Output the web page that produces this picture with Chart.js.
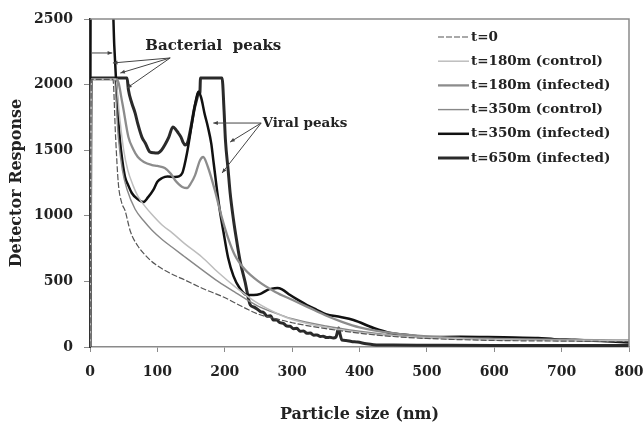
<!DOCTYPE html>
<html>
<head>
<meta charset="utf-8">
<script src="https://cdn.jsdelivr.net/npm/chart.js@4.4.0/dist/chart.umd.min.js"></script>
<style>
  html, body { margin: 0; padding: 0; background: #fff; }
</style>
</head>
<body>
<canvas id="chart" width="644" height="426"></canvas>
<script>
// series names (legend order)
const seriesNames = ['t=0', 't=180m (control)', 't=180m (infected)', 't=350m (control)', 't=350m (infected)', 't=650m (infected)'];

// t=0  (lowest thin curve)
const t0X = [0, 2, 34, 38, 42, 47, 52, 60, 71, 82, 97, 120, 141, 170, 198, 225, 250, 280, 300, 350, 400, 450, 500, 600, 700, 800];
const t0Y = [0, 2040, 2040, 1600, 1250, 1100, 1040, 880, 770, 700, 630, 560, 510, 440, 381, 310, 250, 210, 185, 140, 105, 80, 65, 50, 45, 40];

// t=180m control (light thin curve)
const c180X = [0, 2, 38, 44, 50, 56, 64, 71, 82, 92, 107, 122, 140, 166, 190, 216, 250, 280, 300, 350, 400, 450, 500, 600, 700, 800];
const c180Y = [0, 2040, 2040, 1750, 1500, 1350, 1230, 1150, 1070, 1010, 930, 870, 790, 686, 570, 457, 330, 250, 210, 150, 110, 85, 70, 55, 50, 50];

// t=180m infected (grey curve, second bump ~165 nm)
const i180X = [0, 2, 40, 48, 57, 64, 71, 80, 92, 100, 111, 120, 126, 132, 137, 144, 150, 156, 163, 168, 175, 185, 195, 205, 215, 230, 250, 275, 300, 325, 350, 375, 400, 450, 500, 550, 600, 650, 700, 750, 800];
const i180Y = [0, 2040, 2040, 1860, 1600, 1510, 1448, 1410, 1387, 1380, 1364, 1320, 1273, 1240, 1220, 1212, 1250, 1310, 1420, 1448, 1372, 1200, 1000, 830, 700, 590, 500, 420, 360, 300, 240, 190, 150, 105, 80, 68, 62, 58, 55, 52, 50];

// t=350m control (second thin curve)
const c350X = [0, 2, 36, 42, 48, 55, 67, 80, 92, 107, 122, 140, 166, 190, 216, 250, 280, 300, 350, 400, 450, 500, 600, 700, 800];
const c350Y = [0, 2040, 2040, 1600, 1350, 1200, 1050, 960, 890, 820, 760, 690, 590, 500, 415, 310, 250, 215, 160, 120, 90, 70, 55, 50, 45];

// t=350m infected (black, min near 80 nm, bump near 280 nm)
const i350X = [0, 1, 33, 36, 40, 44, 48, 52, 57, 62, 70, 79, 86, 94, 100, 107, 115, 126, 132, 137, 140, 144, 148, 152, 156, 159, 161, 165, 170, 175, 180, 183, 186, 189, 193, 198, 205, 213, 222, 233, 243, 253, 263, 270, 278, 285, 297, 310, 322, 337, 350, 372, 391, 421, 446, 471, 501, 550, 590, 630, 665, 689, 720, 760, 800];
const i350Y = [0, 2700, 2700, 2300, 1900, 1600, 1420, 1296, 1230, 1174, 1130, 1105, 1140, 1197, 1260, 1288, 1300, 1296, 1300, 1326, 1380, 1478, 1600, 1730, 1850, 1920, 1944, 1900, 1780, 1677, 1550, 1425, 1300, 1174, 1030, 880, 680, 540, 450, 396, 396, 405, 434, 445, 450, 440, 396, 355, 320, 282, 250, 229, 206, 145, 107, 91, 76, 78, 76, 72, 69, 60, 55, 45, 35];

// t=650m infected (thick, saturated peaks)
const i650X = [0, 2, 55, 57, 62, 67, 71, 77, 82, 89, 95, 100, 106, 111, 117, 123, 127, 131, 135, 138, 141, 145, 150, 155, 159, 161, 163, 164, 196, 199, 201, 205, 208, 213, 218, 223, 230, 238, 243, 248, 253, 258, 263, 268, 272, 277, 282, 287, 292, 297, 302, 307, 312, 317, 322, 327, 332, 337, 342, 346, 351, 356, 361, 365, 367, 369, 371, 374, 380, 388, 397, 410, 421, 450, 500, 600, 700, 800];
const i650Y = [0, 2050, 2050, 1960, 1860, 1783, 1700, 1600, 1555, 1486, 1480, 1478, 1500, 1540, 1600, 1677, 1660, 1631, 1600, 1562, 1540, 1560, 1680, 1820, 1900, 1944, 1930, 2050, 2050, 1800, 1578, 1350, 1174, 968, 800, 650, 500, 320, 305, 290, 270, 262, 235, 238, 206, 205, 185, 180, 160, 158, 140, 142, 120, 122, 105, 106, 90, 92, 80, 82, 72, 74, 68, 75, 110, 145, 100, 53, 50, 42, 38, 25, 18, 15, 14, 12, 12, 12];

const xTicks = [0, 100, 200, 300, 400, 500, 600, 700, 800];
const yTicks = [0, 500, 1000, 1500, 2000, 2500];

const pts = (xs, ys) => xs.map((x, i) => ({ x: x, y: ys[i] }));

const serif = 'DejaVu Serif';

const styles = [
  { color: '#555', width: 1.2, dash: [6, 2] },
  { color: '#bdbdbd', width: 1.5, dash: [] },
  { color: '#8c8c8c', width: 2.3, dash: [] },
  { color: '#888', width: 1.4, dash: [] },
  { color: '#111', width: 2.5, dash: [] },
  { color: '#2a2a2a', width: 3, dash: [] },
];
const seriesData = [pts(t0X, t0Y), pts(c180X, c180Y), pts(i180X, i180Y), pts(c350X, c350Y), pts(i350X, i350Y), pts(i650X, i650Y)];

const datasets = seriesNames.map((name, i) => ({
  label: name,
  data: seriesData[i],
  borderColor: styles[i].color,
  borderWidth: styles[i].width,
  borderDash: styles[i].dash,
  pointRadius: 0,
  fill: false,
  cubicInterpolationMode: 'monotone',
}));

// annotation anchor points in data units
const bactLabel = { x: 82, y: 2290 };
const bactFrom = { x: 119, y: 2203 };
const bactTargets = [{ x: 34, y: 2165 }, { x: 45, y: 2088 }, { x: 55, y: 1974 }];
const bactBar = [{ x: 3, y: 2241 }, { x: 33, y: 2241 }];
const viralLabel = { x: 256, y: 1707 };
const viralFrom = { x: 254, y: 1707 };
const viralTargets = [{ x: 183, y: 1707 }, { x: 208, y: 1562 }, { x: 196, y: 1326 }];

function arrow(ctx, x1, y1, x2, y2) {
  ctx.beginPath();
  ctx.moveTo(x1, y1);
  ctx.lineTo(x2, y2);
  ctx.stroke();
  const a = Math.atan2(y2 - y1, x2 - x1);
  const s = 5;
  ctx.beginPath();
  ctx.moveTo(x2, y2);
  ctx.lineTo(x2 - s * Math.cos(a - 0.4), y2 - s * Math.sin(a - 0.4));
  ctx.lineTo(x2 - s * Math.cos(a + 0.4), y2 - s * Math.sin(a + 0.4));
  ctx.closePath();
  ctx.fill();
}

const extras = {
  id: 'extras',
  afterDatasetsDraw(chart) {
    const { ctx, chartArea: area, scales: { x, y } } = chart;
    const px = p => [x.getPixelForValue(p.x), y.getPixelForValue(p.y)];
    ctx.save();
    // frame top / right
    ctx.strokeStyle = '#8a8a8a';
    ctx.lineWidth = 1.5;
    ctx.beginPath();
    ctx.moveTo(area.left, area.top);
    ctx.lineTo(area.right, area.top);
    ctx.lineTo(area.right, area.bottom);
    ctx.stroke();

    // annotations
    ctx.strokeStyle = '#444';
    ctx.fillStyle = '#444';
    ctx.lineWidth = 1;
    const bf = px(bactFrom);
    bactTargets.forEach(t => { const p = px(t); arrow(ctx, bf[0], bf[1], p[0], p[1]); });
    const b0 = px(bactBar[0]), b1 = px(bactBar[1]);
    arrow(ctx, b0[0], b0[1], b1[0], b1[1]);
    const vf = px(viralFrom);
    viralTargets.forEach(t => { const p = px(t); arrow(ctx, vf[0], vf[1], p[0], p[1]); });

    ctx.fillStyle = '#222';
    ctx.textBaseline = 'middle';
    ctx.textAlign = 'left';
    ctx.font = 'bold 15px "' + serif + '"';
    let p = px(bactLabel);
    ctx.fillText('Bacterial  peaks', p[0], p[1]);
    ctx.font = 'bold 13.5px "' + serif + '"';
    p = px(viralLabel);
    ctx.fillText('Viral peaks', p[0], p[1]);

    // legend
    ctx.font = 'bold 13.5px "' + serif + '"';
    chart.data.datasets.forEach((ds, i) => {
      const yy = area.top + 18 + i * 24.2;
      const x0 = area.right - 191;
      ctx.strokeStyle = ds.borderColor;
      ctx.lineWidth = ds.borderWidth;
      ctx.setLineDash(ds.borderDash || []);
      ctx.beginPath();
      ctx.moveTo(x0, yy);
      ctx.lineTo(x0 + 31, yy);
      ctx.stroke();
      ctx.setLineDash([]);
      ctx.fillStyle = '#222';
      ctx.fillText(ds.label, x0 + 33, yy);
    });
    ctx.restore();
  }
};

new Chart(document.getElementById('chart').getContext('2d'), {
  type: 'line',
  data: { datasets: datasets },
  options: {
    responsive: false,
    animation: false,
    devicePixelRatio: 1,
    layout: { padding: { left: 0, right: 15, top: 19, bottom: 0 } },
    plugins: { legend: { display: false }, tooltip: { enabled: false } },
    scales: {
      x: {
        type: 'linear',
        min: 0,
        max: 800,
        afterBuildTicks: s => { s.ticks = xTicks.map(v => ({ value: v })); },
        afterFit: s => { s.height = 79; s.paddingLeft = 0; s.paddingRight = 0; },
        grid: { drawOnChartArea: false, drawTicks: true, tickLength: 5, color: '#8a8a8a' },
        border: { color: '#8a8a8a', width: 1.5 },
        ticks: { color: '#222', padding: 12, maxRotation: 0, callback: v => String(v), font: { family: serif, weight: 'bold', size: 14 } },
        title: { display: true, text: 'Particle size (nm)', color: '#222', padding: { top: 0, bottom: 2 }, font: { family: serif, weight: 'bold', size: 16 } },
      },
      y: {
        type: 'linear',
        min: 0,
        max: 2500,
        afterBuildTicks: s => { s.ticks = yTicks.map(v => ({ value: v })); },
        afterFit: s => { s.width = 90; s.paddingTop = 0; s.paddingBottom = 0; },
        grid: { drawOnChartArea: false, drawTicks: true, tickLength: 6, color: '#8a8a8a' },
        border: { color: '#333', width: 2 },
        ticks: { color: '#222', padding: 11, callback: v => String(v), font: { family: serif, weight: 'bold', size: 14 } },
        title: { display: true, text: 'Detector Response', color: '#222', padding: { top: 7, bottom: 0 }, font: { family: serif, weight: 'bold', size: 16 } },
      },
    },
  },
  plugins: [extras],
});
</script>
</body>
</html>
